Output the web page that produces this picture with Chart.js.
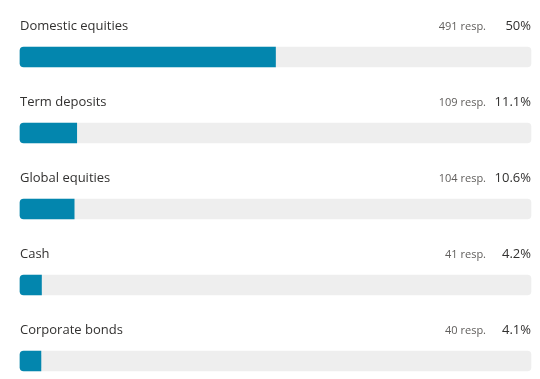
<!DOCTYPE html>
<html>
<head>
<meta charset="utf-8">
<script src="https://cdn.jsdelivr.net/npm/chart.js@4"></script>
<style>
html,body{margin:0;padding:0;background:#fff;}
#wrap{width:540px;height:379px;position:relative;}
</style>
</head>
<body>
<div id="wrap"><canvas id="c" width="540" height="379"></canvas></div>
<script>
const categories = ["Domestic equities", "Term deposits", "Global equities", "Cash", "Corporate bonds"];
const percentValues = [50, 11.1, 10.6, 4.2, 4.1];
const responseCounts = [491, 109, 104, 41, 40];
const percentLabels = ["50%", "11.1%", "10.6%", "4.2%", "4.1%"];
const trackValues = [100, 100, 100, 100, 100];

const FONT = '"Segoe UI", "Open Sans", "Noto Sans", sans-serif';

const labelPlugin = {
  id: 'rowLabels',
  afterDatasetsDraw(chart) {
    const ctx = chart.ctx;
    const y = chart.scales.y;
    const area = chart.chartArea;
    ctx.save();
    ctx.textBaseline = 'middle';
    categories.forEach((cat, i) => {
      const cy = y.getPixelForValue(i) - 31;
      ctx.font = '13px ' + FONT;
      ctx.fillStyle = '#323130';
      ctx.textAlign = 'left';
      ctx.fillText(cat, area.left, cy);
      ctx.textAlign = 'right';
      ctx.font = '13px ' + FONT;
      ctx.fillText(percentLabels[i], area.right, cy);
      ctx.font = '11px ' + FONT;
      ctx.fillStyle = '#605e5c';
      ctx.fillText(responseCounts[i] + ' resp.', area.right - 45, cy + 1);
    });
    ctx.restore();
  }
};

new Chart(document.getElementById('c'), {
  type: 'bar',
  data: {
    labels: categories,
    datasets: [
      {
        data: percentValues,
        backgroundColor: '#0386ae',
        borderRadius: {topLeft: 4, bottomLeft: 4, topRight: 0, bottomRight: 0},
        borderSkipped: false,
        barThickness: 20,
        grouped: false,
        order: 0,
        clip: false
      },
      {
        data: trackValues,
        backgroundColor: '#eeeeee',
        borderRadius: 4,
        borderSkipped: false,
        barThickness: 20,
        grouped: false,
        order: 1,
        clip: false
      }
    ]
  },
  options: {
    indexAxis: 'y',
    responsive: false,
    animation: false,
    layout: {padding: {left: 20, right: 9, top: 57, bottom: 18}},
    scales: {
      x: {display: false, min: 0, max: 100},
      y: {display: false, offset: false}
    },
    plugins: {legend: {display: false}, tooltip: {enabled: false}}
  },
  plugins: [labelPlugin]
});
</script>
</body>
</html>
